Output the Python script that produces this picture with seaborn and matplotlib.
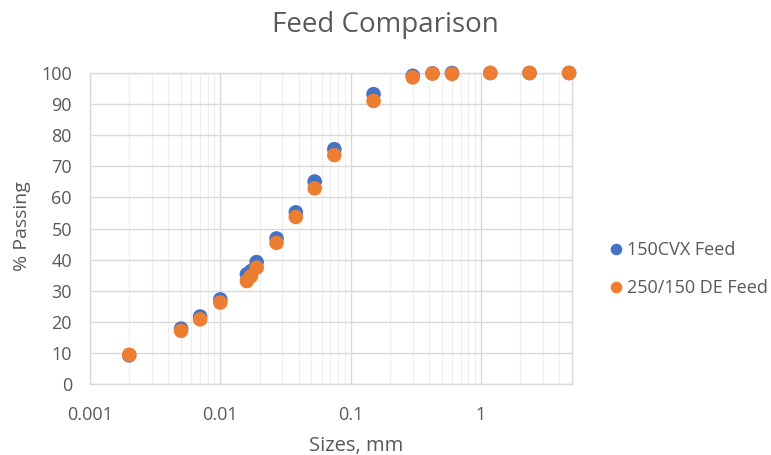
import matplotlib
matplotlib.use("Agg")
import matplotlib.pyplot as plt
import seaborn as sns
import pandas as pd
import numpy as np
from matplotlib.ticker import LogLocator, FixedLocator, NullFormatter

sizes = [0.002, 0.005, 0.007, 0.01, 0.016, 0.0172, 0.019, 0.027, 0.038, 0.053, 0.075,
         0.15, 0.3, 0.425, 0.6, 1.18, 2.36, 4.75]
cvx_feed = [9.2, 17.8, 21.7, 27.2, 35.3, 36.3, 39.2, 46.8, 55.2, 65.1, 75.5,
            93.2, 99.1, 99.9, 100.0, 100.0, 100.0, 100.0]
de_feed = [9.4, 17.1, 20.8, 26.2, 33.1, 34.7, 37.4, 45.4, 53.7, 62.9, 73.6,
           91.0, 98.6, 99.8, 99.7, 100.0, 100.0, 100.0]
series_names = ["150CVX Feed", "250/150 DE Feed"]
x_ticks = [0.001, 0.01, 0.1, 1]
x_tick_labels = ["0.001", "0.01", "0.1", "1"]
y_ticks = list(range(0, 101, 10))

df = pd.DataFrame({
    "size": sizes * 2,
    "passing": cvx_feed + de_feed,
    "series": [series_names[0]] * len(sizes) + [series_names[1]] * len(sizes),
})

sns.set_style("white")
plt.rcParams['font.family'] = ['Open Sans', 'DejaVu Sans']
text_color = "#595959"

fig = plt.figure(figsize=(7.71, 4.55), dpi=100)
ax = fig.add_axes([90/771, 1-384/455, (572-90)/771, (384-73)/455])

palette = {series_names[0]: "#4472C4", series_names[1]: "#ED7D31"}
sns.scatterplot(data=df, x="size", y="passing", hue="series", palette=palette,
                s=110, edgecolor="none", ax=ax, zorder=3)
for coll in ax.collections:
    coll.set_clip_on(False)

ax.set_xscale("log")
ax.set_xlim(0.001, 5)
ax.set_ylim(0, 100)
ax.xaxis.set_major_locator(FixedLocator(x_ticks))
ax.set_xticklabels(x_tick_labels)
ax.xaxis.set_minor_locator(LogLocator(base=10, subs=np.arange(2, 10)))
ax.xaxis.set_minor_formatter(NullFormatter())
ax.set_yticks(y_ticks)

ax.grid(True, which="major", color="#D9D9D9", linewidth=1.0, zorder=0)
ax.grid(True, which="minor", axis="x", color="#EFEFEF", linewidth=0.9, zorder=0)
ax.set_axisbelow(True)
for sp in ax.spines.values():
    sp.set_color("#D9D9D9")
    sp.set_linewidth(1.0)

ax.tick_params(axis="both", which="both", length=0, colors=text_color, labelsize=13)
ax.tick_params(axis="x", pad=16)
ax.tick_params(axis="y", pad=13)

ax.set_xlabel("")
ax.set_ylabel("")
fig.text(356/771, 1-446/455, "Sizes, mm", ha="center", va="center",
         color=text_color, fontsize=14.5)
fig.text(22/771, 1-226/455, "% Passing", ha="center", va="center", rotation=90,
         color=text_color, fontsize=14)
fig.text(0.5, 1-25/455, "Feed Comparison", ha="center", va="center",
         color=text_color, fontsize=20)

leg = ax.legend(loc="center left", bbox_to_anchor=((609 - 90) / 482, 0.37), frameon=False,
                fontsize=13, handletextpad=0.2, handlelength=0.8, labelspacing=1.1,
                markerscale=0.8, borderpad=0, borderaxespad=0)
for t in leg.get_texts():
    t.set_color(text_color)

fig.savefig("out.png", dpi=100)
